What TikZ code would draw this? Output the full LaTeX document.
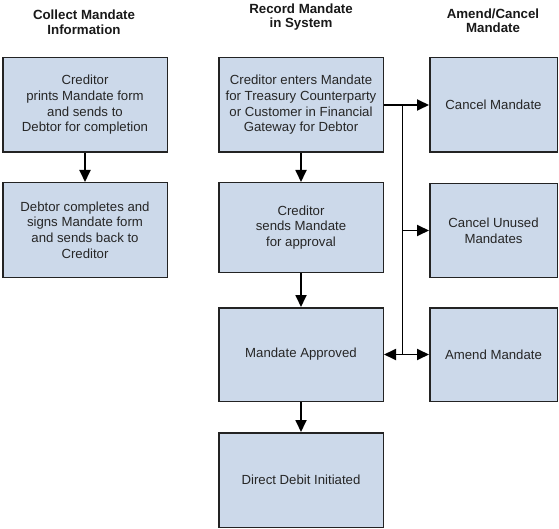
\documentclass[tikz,border=0pt]{standalone}
\usepackage{fontspec}
\setmainfont{Liberation Sans}
\usetikzlibrary{arrows.meta}
\definecolor{boxfill}{RGB}{204,217,234}
\definecolor{boxline}{RGB}{35,35,35}
\begin{document}
\begin{tikzpicture}[x=1pt,y=-1pt,
  box/.style={draw=boxline,fill=boxfill,line width=1.5pt,align=center,inner sep=0pt,
    font=\fontsize{13.2}{15.7}\selectfont,text=black!85},
  wide/.style={minimum width=164.5pt},
  narrow/.style={minimum width=127.5pt},
  title/.style={align=center,font=\fontsize{13.3}{14.5}\selectfont\bfseries,text=black!90},
  arr/.style={line width=1.8pt,-{Triangle[length=12pt,width=11pt]}},
  bus/.style={line width=1.8pt}]
\useasboundingbox (0,0) rectangle (559,529);
% titles
\node[title] (t1) at (84,22) {Collect Mandate\\Information};
\node[title] (t2) at (301,17) {Record Mandate\\in System};
\node[title] (t3) at (493,20.5) {Amend/Cancel\\Mandate};
% left column
\node[box,wide,minimum height=94.5pt] (c1) at (85,105) {Creditor\\prints Mandate form\\and sends to\\Debtor  for completion};
\node[box,wide,minimum height=94.5pt] (c2) at (85,230) {Debtor completes and\\signs Mandate form\\and sends back to\\Creditor};
% middle column
\node[box,wide,minimum height=94.5pt] (m1) at (301,105) {Creditor enters Mandate\\for Treasury Counterparty\\or Customer in Financial\\Gateway for Debtor};
\node[box,wide,minimum height=89.5pt] (m2) at (301,227.5) {Creditor\\sends Mandate\\for approval};
\node[box,wide,minimum height=93.5pt] (m3) at (301,354.5) {Mandate Approved};
\node[box,wide,minimum height=94.5pt] (m4) at (301,480) {Direct Debit Initiated};
% right column
\node[box,narrow,minimum height=94.5pt] (r1) at (493.5,105) {Cancel Mandate};
\node[box,narrow,minimum height=93.5pt] (r2) at (493.5,230.5) {Cancel Unused\\Mandates};
\node[box,narrow,minimum height=93.5pt] (r3) at (493.5,354.5) {Amend Mandate};
% connectors
\coordinate (b1) at (402.5,105);
\coordinate (b3) at (402.5,354.5);
\draw[arr] (c1) -- (c2);
\draw[arr] (m1) -- (m2);
\draw[arr] (m2) -- (m3);
\draw[arr] (m3) -- (m4);
\draw[arr] (m1.east) -- (r1.west);
\draw[bus] (b1) -- (b3);
\draw[arr] (b1 |- r2.west) -- (r2.west);
\draw[arr] (b3) -- (m3.east);
\draw[arr] (b3) -- (r3.west);
\end{tikzpicture}
\end{document}
